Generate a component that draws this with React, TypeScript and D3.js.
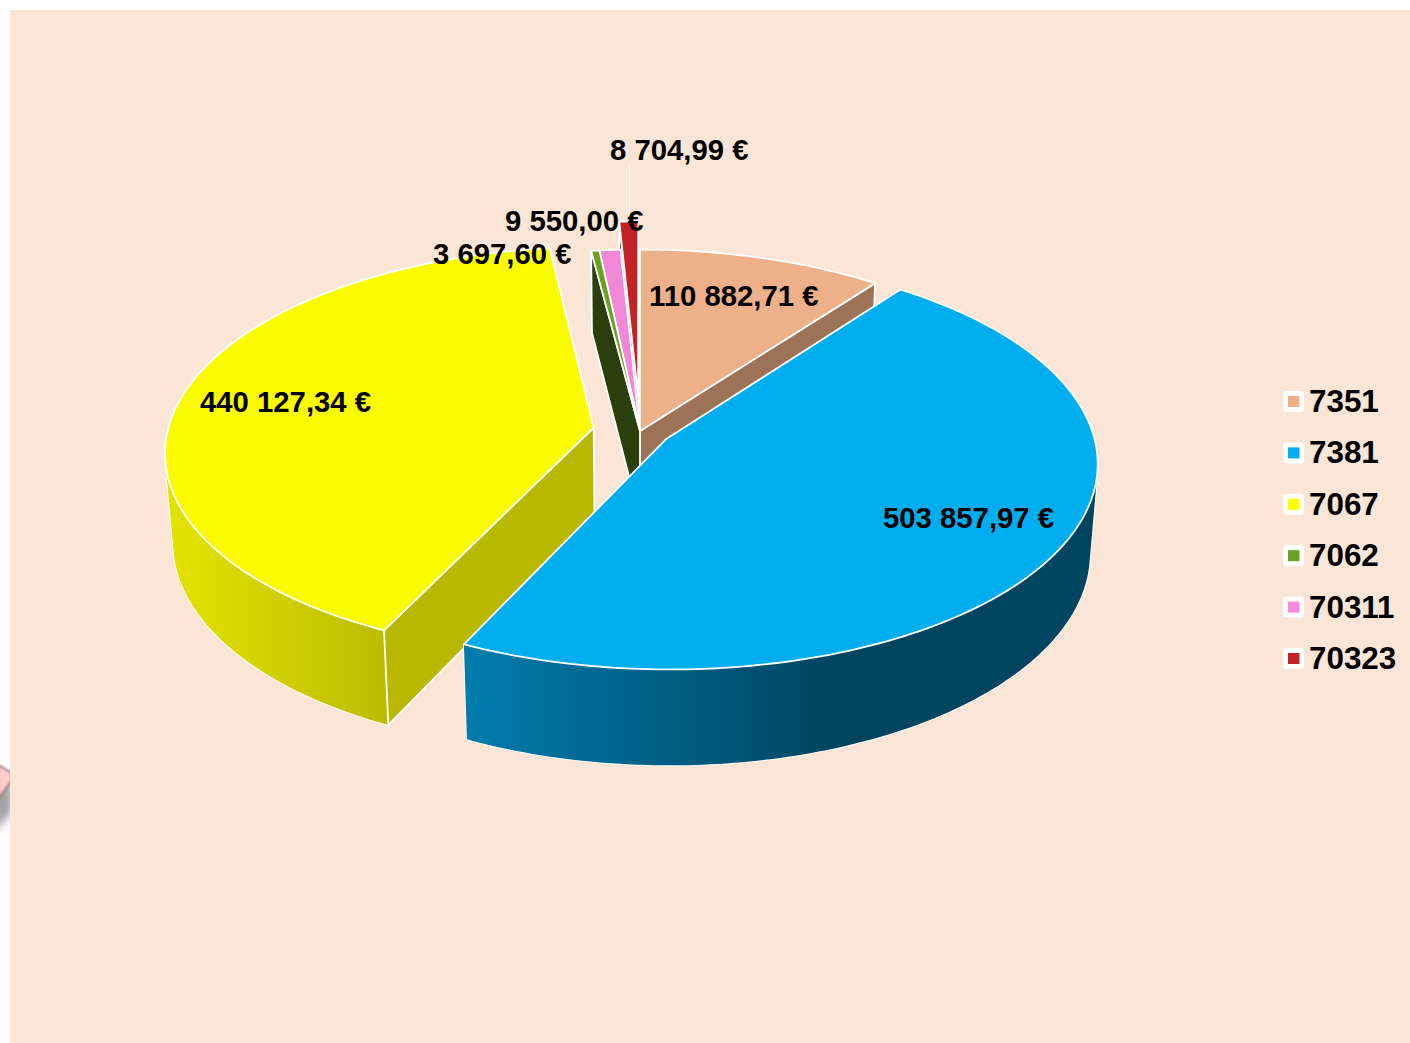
import React from "react";
import * as d3 from "d3";

// Comptes et montants (en euros)
const accounts = ["7351", "7381", "7067", "7062", "70311", "70323"];
const amounts = [110882.71, 503857.97, 440127.34, 3697.6, 9550.0, 8704.99];
const amountLabels = [
  "110 882,71 €",
  "503 857,97 €",
  "440 127,34 €",
  "3 697,60 €",
  "9 550,00 €",
  "8 704,99 €",
];

const width = 1410;
const height = 1043;

// Styles par part
const topColors = ["#edb088", "#00aeef", "#fbfb00", "#6aa121", "#f287d8", "#c22326"];
const legendColors = ["#efb088", "#00aeef", "#ffff00", "#6aa121", "#f888dc", "#c22326"];
const sideColors = ["#9c7359", "#00607f", "#b8b800", "#2b3f0c", "#9c5a8c", "#5a1012"];
const wallFill = ["#9c7359", "url(#wallBlue)", "url(#wallYellow)", "#2b3f0c", "#9c5a8c", "#5a1012"];
const explode = [0, 31, 47, 0, 0, 75];
// face coupée visible de chaque part
const visibleFace = ["end", "none", "start", "start", "none", "start"];
const paintOrder = [5, 0, 4, 3, 2, 1];
const labelPos = [
  [649, 306],
  [883, 528],
  [200, 412],
  [433, 264],
  [505, 231],
  [610, 160],
];

// Projection du disque
const cx = 640;
const cy = 431;
const R = 426;
const tilt = 0.475;
const persp = 0.115;
const depth = 88;
const bottomShrink = 0.983;

type Pt = [number, number];

const scaleAt = (Z: number) => 1 / (1 + (persp * Z) / R);

const project = (X: number, Z: number, low = false): Pt => {
  const s = scaleAt(Z);
  const px = X * s;
  const py = -Z * tilt * s;
  if (!low) return [cx + px, cy + py];
  return [cx + px * bottomShrink, cy + py * bottomShrink + depth * s];
};

const toPath = d3.line<Pt>();

const pie = d3
  .pie<number>()
  .sort(null)
  .startAngle(0)
  .endAngle(2 * Math.PI);

const slices = pie(amounts).map((d, i) => {
  const mid = (d.startAngle + d.endAngle) / 2;
  const ox = explode[i] * Math.sin(mid);
  const oz = explode[i] * Math.cos(mid);
  const steps = Math.max(2, Math.ceil((d.endAngle - d.startAngle) * 60));
  const angles = d3.range(steps + 1).map((k) => d.startAngle + ((d.endAngle - d.startAngle) * k) / steps);
  const rimAt = (a: number, low: boolean) => project(ox + R * Math.sin(a), oz + R * Math.cos(a), low);
  const apex = project(ox, oz);
  const apexLow = project(ox, oz, true);
  const rim = angles.map((a) => rimAt(a, false));
  const rimLow = angles.map((a) => rimAt(a, true));
  // seul l'avant du disque montre sa paroi
  const front = angles.filter((a) => Math.cos(a) < 0.25);
  const wallQuads: Pt[][] = d3.pairs(front).map(([a, b]) => {
    const q: Pt[] = [rimAt(a, false), rimAt(b, false), rimAt(b, true), rimAt(a, true)];
    // même sens partout, sinon les quads s'annulent sur la silhouette
    return d3.polygonArea(q) < 0 ? q.reverse() : q;
  });
  return { i, apex, apexLow, rim, rimLow, wallQuads };
});

const App = () => {
  const red = slices[5];
  const redTop = red.rim[Math.floor(red.rim.length / 2)];
  return (
    <svg
      width={width}
      height={height}
      style={{ position: "absolute", left: 0, top: 0, display: "block", fontFamily: "'Liberation Sans', Arial, sans-serif" }}
    >
      <defs>
        <linearGradient id="wallBlue" gradientUnits="userSpaceOnUse" x1={463} x2={1097} y1={0} y2={0}>
          <stop offset="0" stopColor="#007dad" />
          <stop offset="0.6" stopColor="#00445f" />
          <stop offset="1" stopColor="#00455f" />
        </linearGradient>
        <linearGradient id="wallYellow" gradientUnits="userSpaceOnUse" x1={165} x2={387} y1={0} y2={0}>
          <stop offset="0" stopColor="#e4e400" />
          <stop offset="1" stopColor="#bcbc00" />
        </linearGradient>
        <filter id="soft" x="-100%" y="-50%" width="300%" height="200%">
          <feGaussianBlur stdDeviation="4" />
        </filter>
        <filter id="softEdge" x="-50%" y="-50%" width="200%" height="200%">
          <feGaussianBlur stdDeviation="0.8" />
        </filter>
        <clipPath id="leftStrip">
          <rect x={0} y={740} width={10} height={100} />
        </clipPath>
      </defs>

      <rect x={0} y={0} width={width} height={height} fill="#ffffff" />
      <rect x={10} y={10} width={width - 10} height={height - 10} fill="#fbe5d6" />

      {/* Bout de flèche coupé par le bord gauche */}
      <g clipPath="url(#leftStrip)">
        <path d="M-6,792 L12,778 L12,812 L-6,832 Z" fill="#a0a0a0" filter="url(#soft)" />
        <path d="M-2,765 L12,773 L12,780 L-2,799 Z" fill="#ffcccc" stroke="#7d6262" strokeWidth={1.5} filter="url(#softEdge)" />
      </g>

      {/* Parts, du fond vers l'avant */}
      {paintOrder.map((idx) => {
        const s = slices[idx];
        const n = s.rim.length - 1;
        const faceStart: Pt[] = [s.apex, s.rim[0], s.rimLow[0], s.apexLow];
        const faceEnd: Pt[] = [s.apex, s.rim[n], s.rimLow[n], s.apexLow];
        const top: Pt[] = [s.apex, ...s.rim];
        const wallPath = s.wallQuads.map((q) => `${toPath(q)}Z`).join("");
        return (
          <g key={accounts[idx]} stroke="#ffffff" strokeWidth={1.8} strokeLinejoin="round">
            {/* contour blanc d'abord, remplissage en un seul tracé ensuite */}
            {wallPath && <path d={wallPath} fill="#ffffff" />}
            {wallPath && <path d={wallPath} fill={wallFill[idx]} stroke="none" />}
            {visibleFace[idx] === "start" && <path d={`${toPath(faceStart)}Z`} fill={sideColors[idx]} />}
            {visibleFace[idx] === "end" && <path d={`${toPath(faceEnd)}Z`} fill={sideColors[idx]} />}
            <path d={`${toPath(top)}Z`} fill={topColors[idx]} />
          </g>
        );
      })}

      {/* Ligne de rappel de la plus petite étiquette */}
      <line x1={redTop[0] + 0.5} x2={redTop[0] + 0.5} y1={165} y2={redTop[1]} stroke="#ffffff" strokeWidth={1.2} />

      {amountLabels.map((t, i) => (
        <text key={t} x={labelPos[i][0]} y={labelPos[i][1]} fontSize={29.3} fontWeight={700} fill="#000000">
          {t}
        </text>
      ))}

      {/* Légende */}
      {accounts.map((a, i) => {
        const y = 401.5 + i * 51.4;
        return (
          <g key={a}>
            <rect x={1283} y={y - 10.5} width={21} height={21} rx={3} fill="#ffffff" />
            <rect x={1288} y={y - 5.5} width={11.5} height={11} fill={legendColors[i]} />
            <text x={1309} y={y + 10.5} fontSize={31.4} fontWeight={700} fill="#000000">
              {a}
            </text>
          </g>
        );
      })}
    </svg>
  );
};

export default App;
